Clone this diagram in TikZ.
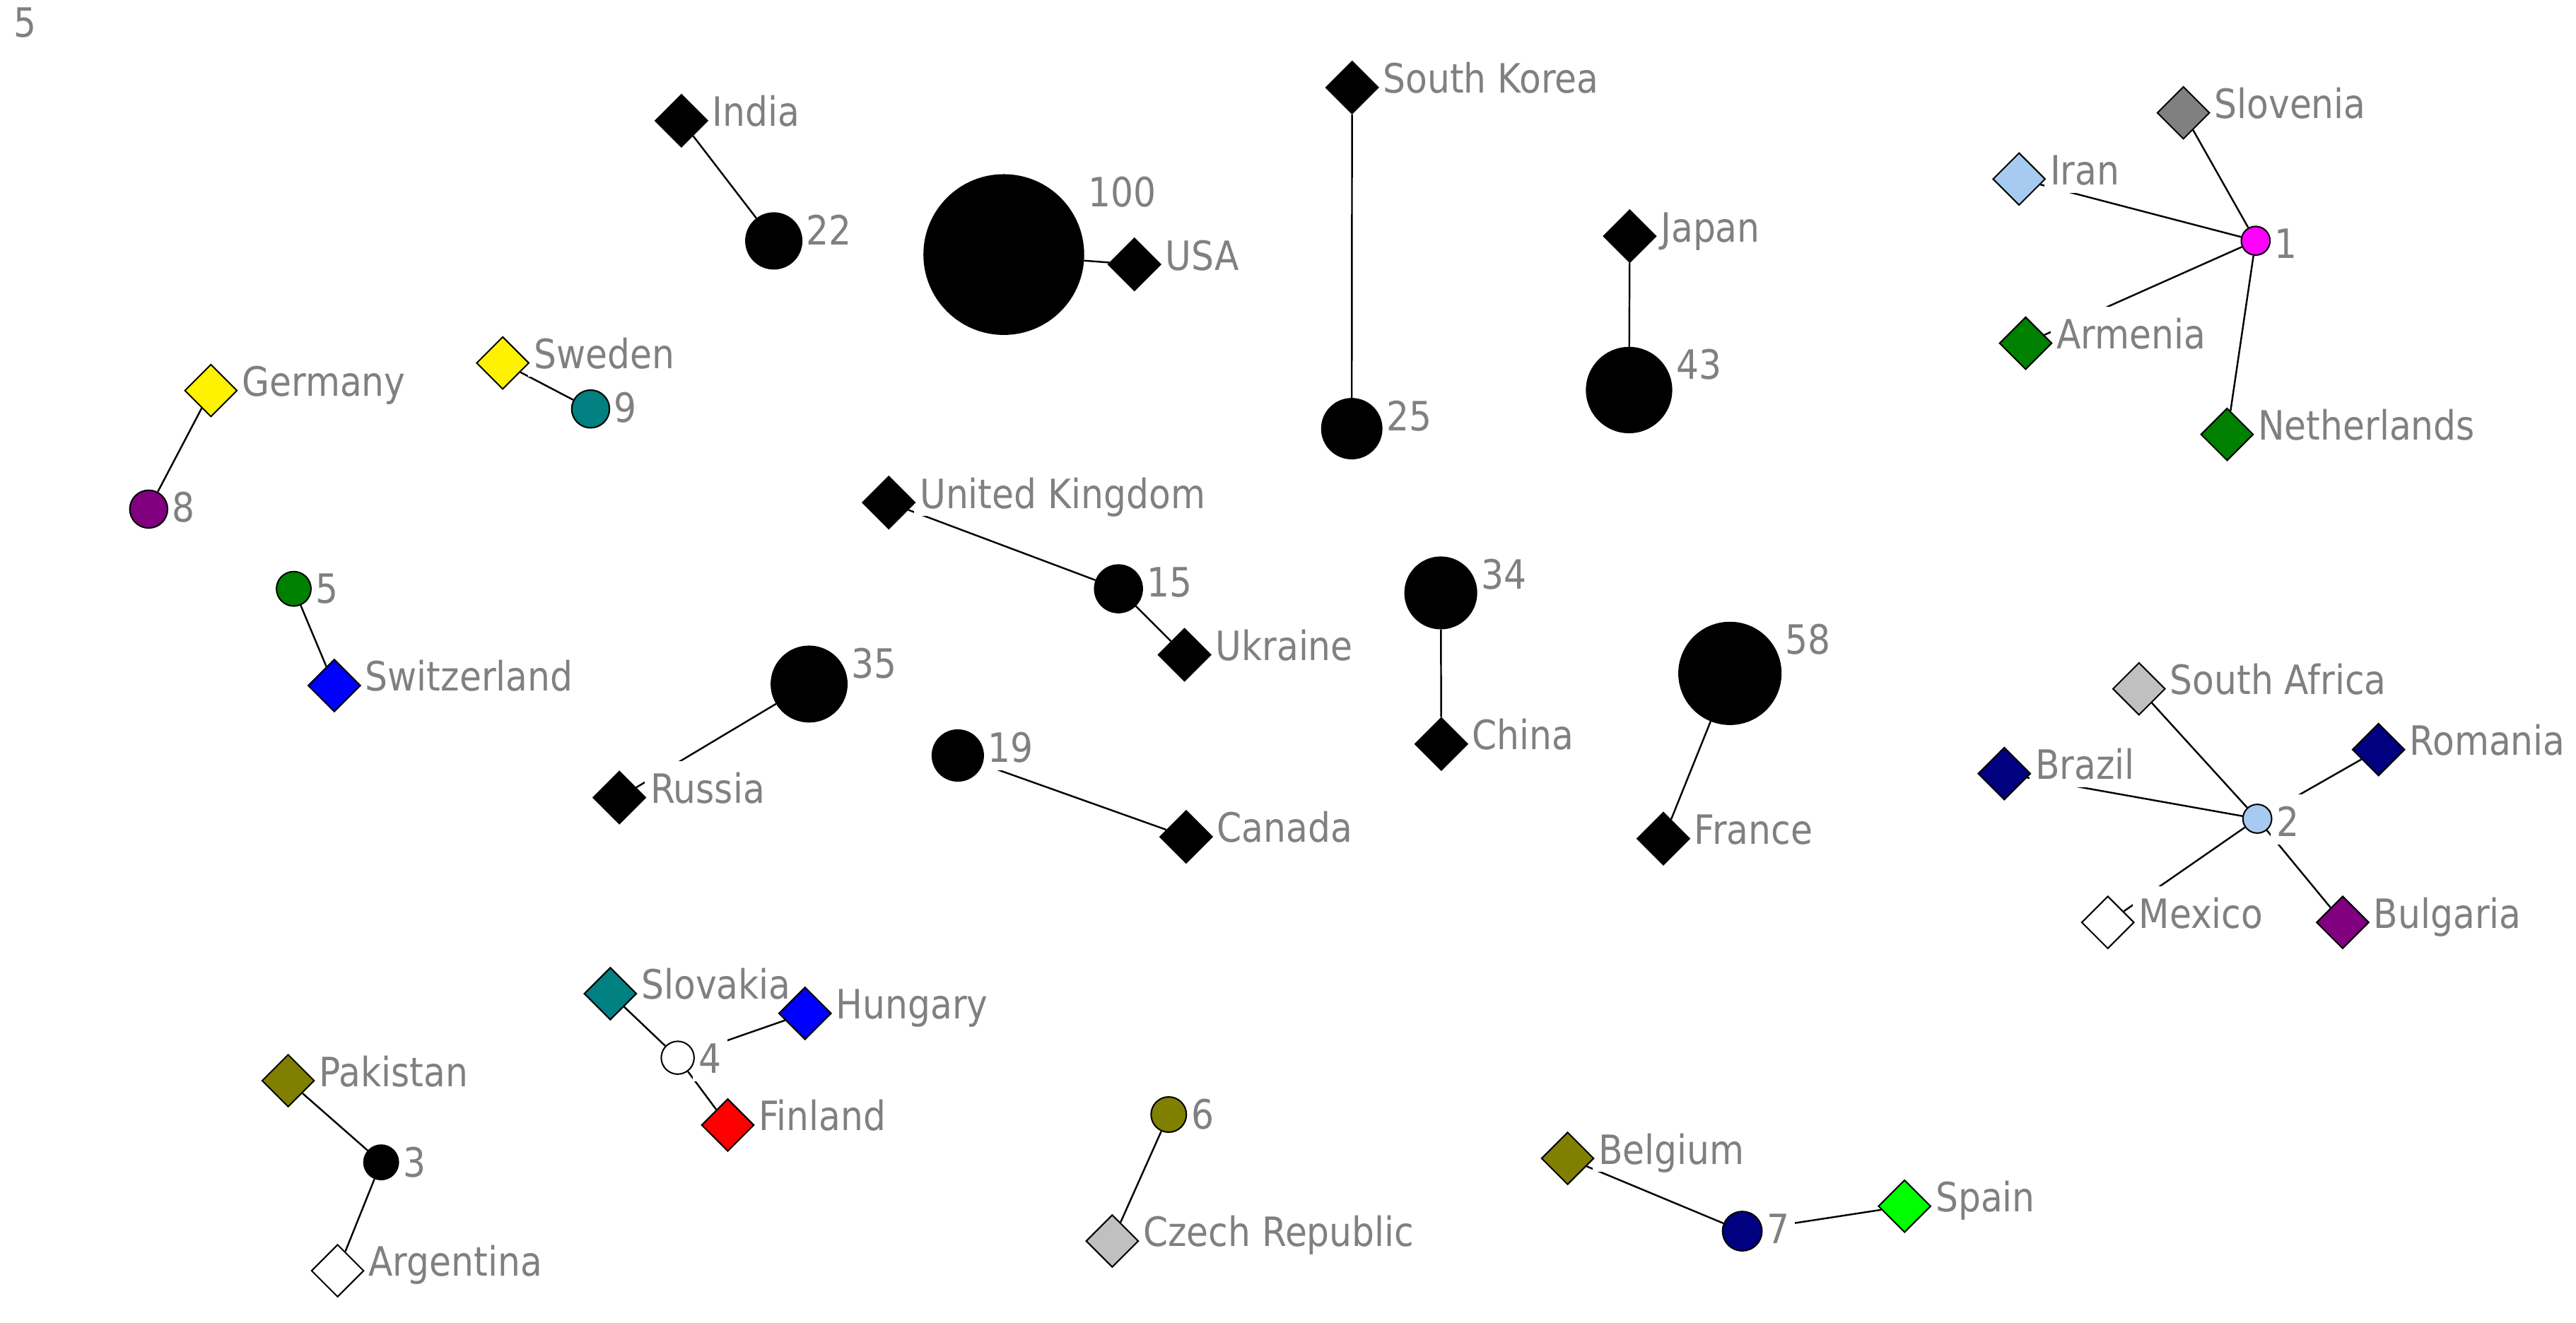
\documentclass[tikz,border=0pt]{standalone}
\usepackage{fontspec}
\newfontfamily\netfont{DejaVu Sans}[FakeStretch=0.88]
\usetikzlibrary{shapes.geometric}
\definecolor{ndtext}{HTML}{808080}
\definecolor{ndgray}{HTML}{808080}
\definecolor{ndsilver}{HTML}{C0C0C0}
\definecolor{ndgreen}{HTML}{008000}
\definecolor{ndteal}{HTML}{008080}
\definecolor{ndnavy}{HTML}{000080}
\definecolor{ndpurple}{HTML}{800080}
\definecolor{ndolive}{HTML}{808000}
\definecolor{ndsky}{HTML}{A6CAF0}
\definecolor{ndlime}{HTML}{00FF00}
\definecolor{ndpink}{HTML}{FF00FF}
\pgfdeclarelayer{edges}
\pgfdeclarelayer{tags}
\pgfsetlayers{edges,tags,main}

\begin{document}
\begin{tikzpicture}[x=0.1mm,y=-0.1mm,
  cty/.style={diamond,draw=black,line width=0.25pt,fill=#1,inner sep=0pt,minimum width=3.2mm,minimum height=3.2mm},
  grp/.style 2 args={circle,draw=black,line width=0.25pt,fill=#1,inner sep=0pt,minimum size=#2},
  lbl/.style={anchor=north west,text=ndtext,fill=white,inner xsep=1pt,inner ysep=0.5pt,text height=6.75pt,text depth=0.9pt,xshift=-0.5pt,yshift=1.8pt,font=\netfont\fontsize{7}{8}\selectfont},
  link/.style={line width=0.3pt}]
\useasboundingbox (0,0) rectangle (1568,805.5);
\node[lbl,anchor=center,fill=none,xshift=0pt,yshift=0pt] (title) at (17,18.5) {5};

% groups
\node[grp={black}{9.7mm}] (c100) at (611,155) {};
\node[grp={black}{3.4mm}] (c22) at (471,146.7) {};
\node[grp={black}{3.65mm}] (c25) at (822.8,261) {};
\node[grp={black}{5.17mm}] (c43) at (991.6,237.5) {};
\node[grp={ndpink}{1.75mm}] (c1) at (1373,146.6) {};
\node[grp={ndpurple}{2.3mm}] (c8) at (90.5,310) {};
\node[grp={ndteal}{2.3mm}] (c9) at (359.5,249) {};
\node[grp={black}{2.9mm}] (c15) at (680.8,358.5) {};
\node[grp={ndgreen}{2.1mm}] (c5) at (178.8,358.5) {};
\node[grp={black}{4.35mm}] (c34) at (877,361) {};
\node[grp={black}{6.2mm}] (c58) at (1053,410) {};
\node[grp={black}{4.6mm}] (c35) at (492.5,416.5) {};
\node[grp={black}{3.1mm}] (c19) at (583,460) {};
\node[grp={ndsky}{1.75mm}] (c2) at (1374,498.5) {};
\node[grp={black}{2.1mm}] (c3) at (232,707.7) {};
\node[grp={white}{2.0mm}] (c4) at (412.5,644) {};
\node[grp={ndolive}{2.15mm}] (c6) at (711.4,678.6) {};
\node[grp={ndnavy}{2.4mm}] (c7) at (1060.5,749.6) {};

% countries
\node[cty=black] (india) at (414.8,73.5) {};
\node[cty=black] (usa) at (690.5,161) {};
\node[cty=black] (skorea) at (823,53.3) {};
\node[cty=black] (japan) at (992,143.8) {};
\node[cty=ndgray] (slovenia) at (1329,68.7) {};
\node[cty=ndsky] (iran) at (1229,109) {};
\node[cty=ndgreen] (armenia) at (1233,209) {};
\node[cty=ndgreen] (netherlands) at (1355.6,264.5) {};
\node[cty=yellow] (germany) at (128.4,237.8) {};
\node[cty=yellow] (sweden) at (306,221) {};
\node[cty=black] (uk) at (541,306) {};
\node[cty=black] (ukraine) at (721,398.7) {};
\node[cty=blue] (switzerland) at (203.5,417.4) {};
\node[cty=black] (russia) at (377,485.6) {};
\node[cty=black] (canada) at (722,509.5) {};
\node[cty=black] (china) at (877.3,453) {};
\node[cty=black] (france) at (1012.5,510.6) {};
\node[cty=ndsilver] (safrica) at (1302,419.4) {};
\node[cty=ndnavy] (romania) at (1447.8,456.4) {};
\node[cty=ndnavy] (brazil) at (1220,471) {};
\node[cty=white] (mexico) at (1283,561.6) {};
\node[cty=ndpurple] (bulgaria) at (1426,561.6) {};
\node[cty=ndteal] (slovakia) at (371.5,605) {};
\node[cty=blue] (hungary) at (490,617) {};
\node[cty=red] (finland) at (443,685) {};
\node[cty=ndolive] (pakistan) at (175.4,658) {};
\node[cty=white] (argentina) at (205.5,773.7) {};
\node[cty=ndsilver] (czech) at (677,755.6) {};
\node[cty=ndolive] (belgium) at (954.2,705.3) {};
\node[cty=ndlime] (spain) at (1159.3,734.4) {};

% labels (white boxes hide the ends of some links)
\begin{pgfonlayer}{tags}
\node[lbl] (c100-l) at (c100.east |- c100.north) {100};
\node[lbl] (c22-l) at (c22.east |- c22.north) {22};
\node[lbl] (c25-l) at (c25.east |- c25.north) {25};
\node[lbl] (c43-l) at (c43.east |- c43.north) {43};
\node[lbl] (c1-l) at (c1.east |- c1.north) {1};
\node[lbl] (c8-l) at (c8.east |- c8.north) {8};
\node[lbl] (c9-l) at (c9.east |- c9.north) {9};
\node[lbl] (c15-l) at (c15.east |- c15.north) {15};
\node[lbl] (c5-l) at (c5.east |- c5.north) {5};
\node[lbl] (c34-l) at (c34.east |- c34.north) {34};
\node[lbl] (c58-l) at (c58.east |- c58.north) {58};
\node[lbl] (c35-l) at (c35.east |- c35.north) {35};
\node[lbl] (c19-l) at (c19.east |- c19.north) {19};
\node[lbl] (c2-l) at (c2.east |- c2.north) {2};
\node[lbl] (c3-l) at (c3.east |- c3.north) {3};
\node[lbl] (c4-l) at (c4.east |- c4.north) {4};
\node[lbl] (c6-l) at (c6.east |- c6.north) {6};
\node[lbl] (c7-l) at (c7.east |- c7.north) {7};
\node[lbl] (india-l) at (india.east |- india.north) {India};
\node[lbl] (usa-l) at (usa.east |- usa.north) {USA};
\node[lbl] (skorea-l) at (skorea.east |- skorea.north) {South Korea};
\node[lbl] (japan-l) at (japan.east |- japan.north) {Japan};
\node[lbl] (slovenia-l) at (slovenia.east |- slovenia.north) {Slovenia};
\node[lbl] (iran-l) at (iran.east |- iran.north) {Iran};
\node[lbl] (armenia-l) at (armenia.east |- armenia.north) {Armenia};
\node[lbl] (netherlands-l) at (netherlands.east |- netherlands.north) {Netherlands};
\node[lbl] (germany-l) at (germany.east |- germany.north) {Germany};
\node[lbl] (sweden-l) at (sweden.east |- sweden.north) {Sweden};
\node[lbl] (uk-l) at (uk.east |- uk.north) {United Kingdom};
\node[lbl] (ukraine-l) at (ukraine.east |- ukraine.north) {Ukraine};
\node[lbl] (switzerland-l) at (switzerland.east |- switzerland.north) {Switzerland};
\node[lbl] (russia-l) at (russia.east |- russia.north) {Russia};
\node[lbl] (canada-l) at (canada.east |- canada.north) {Canada};
\node[lbl] (china-l) at (china.east |- china.north) {China};
\node[lbl] (france-l) at (france.east |- france.north) {France};
\node[lbl] (safrica-l) at (safrica.east |- safrica.north) {South Africa};
\node[lbl] (romania-l) at (romania.east |- romania.north) {Romania};
\node[lbl] (brazil-l) at (brazil.east |- brazil.north) {Brazil};
\node[lbl] (mexico-l) at (mexico.east |- mexico.north) {Mexico};
\node[lbl] (bulgaria-l) at (bulgaria.east |- bulgaria.north) {Bulgaria};
\node[lbl] (slovakia-l) at (slovakia.east |- slovakia.north) {Slovakia};
\node[lbl] (hungary-l) at (hungary.east |- hungary.north) {Hungary};
\node[lbl] (finland-l) at (finland.east |- finland.north) {Finland};
\node[lbl] (pakistan-l) at (pakistan.east |- pakistan.north) {Pakistan};
\node[lbl] (argentina-l) at (argentina.east |- argentina.north) {Argentina};
\node[lbl] (czech-l) at (czech.east |- czech.north) {Czech Republic};
\node[lbl] (belgium-l) at (belgium.east |- belgium.north) {Belgium};
\node[lbl] (spain-l) at (spain.east |- spain.north) {Spain};
\end{pgfonlayer}

% links
\begin{pgfonlayer}{edges}
\draw[link] (india) -- (c22);
\draw[link] (c100) -- (usa);
\draw[link] (skorea) -- (c25);
\draw[link] (japan) -- (c43);
\draw[link] (slovenia) -- (c1);
\draw[link] (iran) -- (c1);
\draw[link] (armenia) -- (c1);
\draw[link] (netherlands) -- (c1);
\draw[link] (germany) -- (c8);
\draw[link] (sweden) -- (c9);
\draw[link] (uk) -- (c15);
\draw[link] (c15) -- (ukraine);
\draw[link] (c5) -- (switzerland);
\draw[link] (c35) -- (russia);
\draw[link] (c19) -- (canada);
\draw[link] (c34) -- (china);
\draw[link] (c58) -- (france);
\draw[link] (safrica) -- (c2);
\draw[link] (brazil) -- (c2);
\draw[link] (romania) -- (c2);
\draw[link] (mexico) -- (c2);
\draw[link] (bulgaria) -- (c2);
\draw[link] (pakistan) -- (c3);
\draw[link] (c3) -- (argentina);
\draw[link] (slovakia) -- (c4);
\draw[link] (c4) -- (hungary);
\draw[link] (c4) -- (finland);
\draw[link] (c6) -- (czech);
\draw[link] (belgium) -- (c7);
\draw[link] (c7) -- (spain);
\end{pgfonlayer}
\end{tikzpicture}
\end{document}
